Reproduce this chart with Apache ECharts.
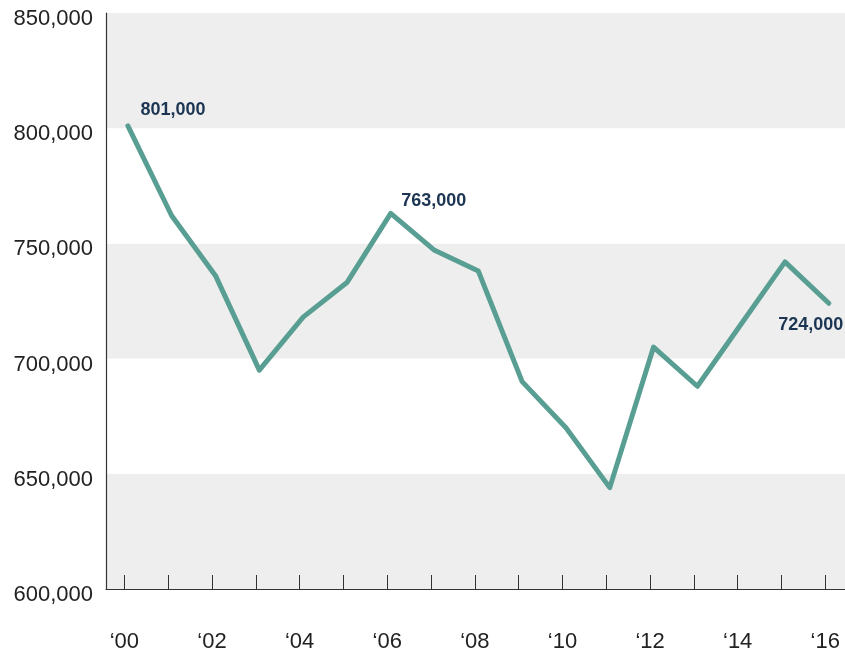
<!DOCTYPE html>
<html>
<head>
<meta charset="utf-8">
<script src="https://cdn.jsdelivr.net/npm/echarts@6/dist/echarts.min.js"></script>
<style>
html,body{margin:0;padding:0;background:#fff;}
#chart{width:845px;height:654px;}
</style>
</head>
<body>
<div id="chart"></div>
<script>
// Data
const years = [0,1,2,3,4,5,6,7,8,9,10,11,12,13,14,15,16];
const values = [801000,762000,736000,695000,718000,733000,763000,747000,738000,690000,670000,644000,705000,688000,715000,742000,724000];
const labeledIdx = [0, 6, 16];
const xTickLabels = ['‘00','‘02','‘04','‘06','‘08','‘10','‘12','‘14','‘16'];
const yTicks = [600000,650000,700000,750000,800000,850000];

const FONT = '"Liberation Sans", Arial, Helvetica, sans-serif';
const TICK_SHIFT = -0.08;
const labelPos = {0: {position:[13,-15], align:'left'}, 6: {position:[11,-12], align:'left'}, 16: {position:[15,22], align:'right'}};

const seriesData = years.map((y, i) => {
  const item = {value: [y, values[i]]};
  if (labeledIdx.includes(i)) {
    item.label = {
      show: true,
      position: labelPos[i].position,
      align: labelPos[i].align,
      verticalAlign: 'middle',
      formatter: (p) => p.value[1].toLocaleString('en-US'),
      color: '#1c3553',
      fontWeight: 'bold',
      fontSize: 18,
      fontFamily: FONT
    };
  }
  return item;
});

const evenYears = years.filter(y => y % 2 === 0);

const chart = echarts.init(document.getElementById('chart'), null, {renderer: 'canvas'});
chart.setOption({
  animation: false,
  backgroundColor: '#ffffff',
  grid: {left: 106, right: 0, top: 13, bottom: 65, containLabel: false},
  xAxis: {
    type: 'value',
    min: -0.5,
    max: 16.37,
    splitLine: {show: false},
    axisLine: {show: true, onZero: false, lineStyle: {color: '#333', width: 1.2}},
    axisTick: {
      show: true, inside: true, length: 14,
      lineStyle: {color: '#333', width: 1},
      customValues: years.map(y => y + TICK_SHIFT)
    },
    axisLabel: {
      show: true,
      customValues: evenYears.map(y => y + TICK_SHIFT),
      formatter: (v) => xTickLabels[Math.round(v) / 2],
      margin: 42,
      fontSize: 22,
      color: '#222',
      fontFamily: FONT
    }
  },
  yAxis: {
    type: 'value',
    min: 600000,
    max: 850000,
    interval: 50000,
    axisLine: {show: true, onZero: false, lineStyle: {color: '#333', width: 1.2}},
    axisTick: {show: false},
    splitLine: {show: false},
    splitArea: {show: true, areaStyle: {color: ['#edeeed', '#ffffff']}},
    axisLabel: {
      margin: 13,
      fontSize: 22,
      color: '#222',
      fontFamily: FONT,
      verticalAlign: 'top',
      lineHeight: 12,
      formatter: (v) => yTicks.includes(v) ? v.toLocaleString('en-US') : ''
    }
  },
  series: [{
    type: 'line',
    data: seriesData,
    symbol: 'circle',
    symbolSize: 1,
    showSymbol: true,
    itemStyle: {color: '#589e92'},
    lineStyle: {color: '#589e92', width: 5, cap: 'round', join: 'round'},
    label: {show: false},
    z: 3
  }]
});
</script>
</body>
</html>
